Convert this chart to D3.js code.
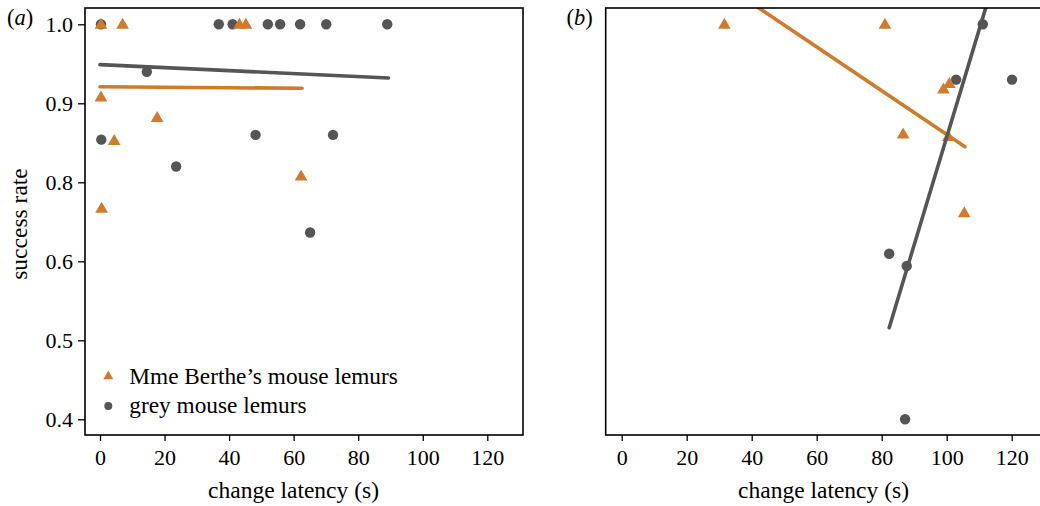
<!DOCTYPE html>
<html>
<head>
<meta charset="utf-8">
<script src="https://cdn.jsdelivr.net/npm/d3@7"></script>
<style>
  body { margin: 0; background: #fff; }
  svg { display: block; }
  text { font-family: "Liberation Serif", "Times New Roman", serif; fill: #000; }
</style>
</head>
<body>
<svg id="chart" width="1040" height="506"></svg>
<script>
// panel (a): Mme Berthe's mouse lemurs
var bertheA_x = [0.3, 7.0, 43.2, 45.2, 0.3, 4.4, 17.7, 0.5, 62.3];
var bertheA_y = [1.0, 1.0, 1.0, 1.0, 0.908, 0.853, 0.882, 0.734, 0.808];
// panel (a): grey mouse lemurs
var greyA_x = [0.3, 0.4, 14.5, 23.6, 36.8, 41.1, 52.0, 55.8, 62.0, 70.1, 89.0, 48.2, 72.2, 65.1];
var greyA_y = [1.0, 0.854, 0.940, 0.820, 1.0, 1.0, 1.0, 1.0, 1.0, 1.0, 1.0, 0.860, 0.860, 0.673];

// panel (b)
var bertheB_x = [31.6, 81.0, 100.8, 99.0, 86.6, 105.4, 100.5];
var bertheB_y = [1.0, 1.0, 0.925, 0.918, 0.861, 0.723, 0.858];
var greyB_x = [111.1, 102.9, 120.1, 82.3, 87.7, 87.2];
var greyB_y = [1.0, 0.930, 0.930, 0.619, 0.594, 0.4];

// fitted lines (end points)
var fitBertheA = [[0, 0.921], [62.6, 0.919]];
var fitGreyA = [[0, 0.949], [89.4, 0.932]];
var fitBertheB = [[31.6, 1.050], [105.6, 0.845]];
var fitGreyB = [[82.3, 0.516], [120.1, 1.131]];

// axis ticks
var xTicks = [0, 20, 40, 60, 80, 100, 120];
var yTicks = [1.0, 0.9, 0.8, 0.6, 0.5, 0.4];

var orange = "#d17a2a";
var grey = "#555555";

var svg = d3.select("#chart");

function zip(xs, ys) {
    var out = [];
    for (var i = 0; i < xs.length; i++) out.push({x: xs[i], y: ys[i]});
    return out;
}

function drawPanel(opt)
{
    const width = 438;
    const height = 427;

    var g = svg.append("g")
        .attr("transform", `translate(${opt.left}, 8)`);

    var xScale = d3.scaleLinear()
        .domain([0, 120])
        .range([opt.x0, opt.x0 + 120 * opt.xStep]);

    // tick labels are not evenly spaced in value, so use a piecewise scale
    var yScale = d3.scaleLinear()
        .domain(yTicks.slice().reverse())
        .range([411.3, 332.3, 253.3, 174.3, 95.3, 16.3]);

    var clipId = "clip" + opt.name;
    g.append("clipPath").attr("id", clipId)
        .append("rect")
        .attr("width", width).attr("height", height);

    // x axis
    var xAxis = g.append("g")
        .attr("transform", `translate(0, ${height})`)
        .call(d3.axisBottom(xScale).tickValues(xTicks).tickSize(6).tickPadding(8).tickSizeOuter(0));
    xAxis.select(".domain").remove();
    xAxis.selectAll("line").attr("stroke", "#000").attr("stroke-width", 1.3);
    xAxis.selectAll("text").style("font-size", "22px").attr("fill", "#000");

    if (opt.yAxis) {
        var yAxis = g.append("g")
            .call(d3.axisLeft(yScale).tickValues(yTicks).tickFormat(d3.format(".1f")).tickSize(7).tickPadding(5).tickSizeOuter(0));
        yAxis.select(".domain").remove();
        yAxis.selectAll("line").attr("stroke", "#000").attr("stroke-width", 1.3);
        yAxis.selectAll("text").style("font-size", "22px").attr("fill", "#000");
    }

    var plot = g.append("g").attr("clip-path", `url(#${clipId})`);

    // points
    plot.selectAll(".grey")
        .data(zip(opt.gx, opt.gy))
        .enter().append("circle")
        .attr("class", "grey")
        .attr("cx", (d) => xScale(d.x))
        .attr("cy", (d) => yScale(d.y))
        .attr("r", 5.2)
        .style("fill", grey);

    var tri = d3.symbol().type(d3.symbolTriangle).size(70);
    plot.selectAll(".berthe")
        .data(zip(opt.bx, opt.by))
        .enter().append("path")
        .attr("class", "berthe")
        .attr("d", tri)
        .attr("transform", (d) => `translate(${xScale(d.x)}, ${yScale(d.y) + 0.8})`)
        .style("fill", orange);

    // fitted lines
    var line = d3.line()
        .x((d) => xScale(d[0]))
        .y((d) => yScale(d[1]));

    plot.append("path")
        .attr("d", line(opt.fitB))
        .attr("fill", "none")
        .attr("stroke", orange)
        .attr("stroke-width", 3.6)
        .attr("stroke-linecap", "round");

    plot.append("path")
        .attr("d", line(opt.fitG))
        .attr("fill", "none")
        .attr("stroke", grey)
        .attr("stroke-width", 3.6)
        .attr("stroke-linecap", "round");

    // frame
    g.append("rect")
        .attr("width", width)
        .attr("height", height)
        .attr("fill", "none")
        .attr("stroke", "#000")
        .attr("stroke-width", 1.6);

    // x axis title
    g.append("text")
        .attr("text-anchor", "middle")
        .attr("x", opt.titleX)
        .attr("y", 489.5)
        .style("font-size", "23.5px")
        .text("change latency (s)");

    // panel label
    var lab = svg.append("text")
        .attr("x", opt.labelX)
        .attr("y", 25)
        .style("font-size", "22.5px");
    lab.append("tspan").text("(");
    lab.append("tspan").style("font-style", "italic").text(opt.name);
    lab.append("tspan").text(")");

    return {x: xScale, y: yScale, g: g};
}

drawPanel({name: "a", left: 85, x0: 15, xStep: 3.2275, yAxis: true,
    bx: bertheA_x, by: bertheA_y, gx: greyA_x, gy: greyA_y,
    fitB: fitBertheA, fitG: fitGreyA, titleX: 208.5, labelX: 7});

drawPanel({name: "b", left: 605.7, x0: 16, xStep: 3.25, yAxis: false,
    bx: bertheB_x, by: bertheB_y, gx: greyB_x, gy: greyB_y,
    fitB: fitBertheB, fitG: fitGreyB, titleX: 217.8, labelX: 566.5});

// y axis title
svg.append("g")
    .attr("transform", "translate(27, 224)")
    .append("text")
    .attr("text-anchor", "middle")
    .attr("transform", "rotate(-90)")
    .style("font-size", "23.5px")
    .text("success rate");

// legend
var legend = svg.append("g");
legend.append("path")
    .attr("d", d3.symbol().type(d3.symbolTriangle).size(44))
    .attr("transform", "translate(108.3, 376.3)")
    .style("fill", orange);
legend.append("circle")
    .attr("cx", 108.3)
    .attr("cy", 406)
    .attr("r", 4)
    .style("fill", grey);
legend.append("text")
    .attr("x", 129.3)
    .attr("y", 384)
    .style("font-size", "23.3px")
    .text("Mme Berthe\u2019s mouse lemurs");
legend.append("text")
    .attr("x", 129.3)
    .attr("y", 412.5)
    .style("font-size", "23.3px")
    .text("grey mouse lemurs");
</script>
</body>
</html>
